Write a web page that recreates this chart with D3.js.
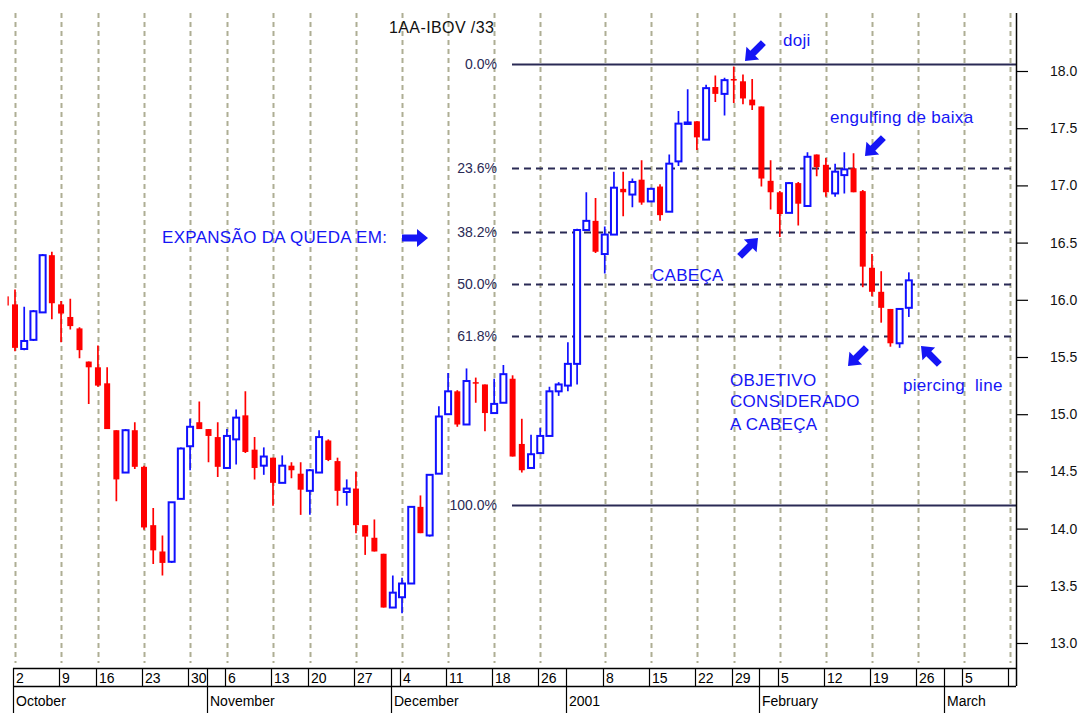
<!DOCTYPE html>
<html lang="en">
<head>
<meta charset="UTF-8"/>
<title>1AA-IBOV /33</title>
<script src="https://d3js.org/d3.v7.min.js"></script>
<style>
  body { margin: 0; background: #fff; }
  svg { display: block; font-family: "Liberation Sans", Arial, sans-serif; }
  text { white-space: pre; }
</style>
</head>
<body>
<script>
// trading-day candles, first one is Sep 29 (index -1), then Oct 2 = index 0
var firstIdx = -1;
var opens  = [16.03,15.96,15.57,15.65,15.89,16.39,15.96,15.85,15.75,15.46,15.41,15.27,14.86,14.49,14.86,14.54,14.03,13.80,13.71,14.26,
              14.72,14.93,14.87,14.80,14.53,14.78,14.99,14.69,14.55,14.62,14.40,14.55,14.48,14.33,14.49,14.77,14.59,14.32,14.35,14.03,
              13.92,13.78,13.31,13.40,13.52,14.19,13.94,14.48,15.00,15.20,14.91,15.28,15.26,15.01,15.10,15.31,14.74,14.53,14.66,14.81,
              15.20,15.25,15.44,16.61,16.69,16.40,16.57,16.97,16.92,17.05,16.86,16.99,16.77,17.21,17.54,17.56,17.40,17.86,17.80,17.93,
              17.91,17.75,17.69,17.04,16.94,16.76,17.02,16.82,17.27,17.18,16.93,17.09,17.15,16.95,16.28,16.07,15.92,15.62,15.93];
var highs  = [16.05,16.09,15.94,15.91,16.40,16.42,15.99,16.01,15.76,15.46,15.60,15.41,14.86,14.87,14.93,14.55,14.18,13.94,14.23,14.71,
              14.96,15.11,14.87,14.93,14.87,15.04,15.20,14.80,14.71,14.62,14.64,14.58,14.58,14.52,14.86,14.78,14.62,14.43,14.50,14.03,
              14.08,13.78,13.59,13.57,14.19,14.29,14.47,15.07,15.36,15.21,15.40,15.32,15.26,15.31,15.43,15.34,14.96,14.82,14.88,15.24,
              15.28,15.63,16.62,16.94,16.89,16.64,17.12,17.12,17.06,17.22,16.98,17.01,17.27,17.65,17.84,17.56,17.88,17.96,17.94,18.04,
              17.97,17.93,17.69,17.22,16.95,17.03,17.03,17.29,17.27,17.24,17.19,17.29,17.28,16.96,16.40,16.25,15.92,15.92,16.24];
var lows   = [15.93,15.55,15.56,15.64,15.89,15.83,15.63,15.74,15.49,15.09,15.24,14.87,14.24,14.49,14.52,13.99,13.69,13.59,13.70,14.26,
              14.51,14.87,14.58,14.45,14.52,14.56,14.66,14.43,14.47,14.20,14.40,14.44,14.12,14.12,14.49,14.59,14.20,14.20,13.96,13.77,
              13.80,13.31,13.31,13.26,13.52,13.96,13.93,14.48,15.00,14.89,14.91,15.10,14.85,15.01,15.10,14.63,14.49,14.53,14.66,14.81,
              15.16,15.20,15.26,16.61,16.41,16.23,16.57,16.73,16.81,16.83,16.86,16.69,16.77,17.17,17.54,17.31,17.40,17.73,17.61,17.72,
              17.71,17.66,16.99,16.79,16.55,16.76,16.65,16.82,17.08,16.90,16.90,16.93,16.94,16.11,16.03,15.80,15.59,15.58,15.85];
var closes = [15.95,15.58,15.64,15.90,16.39,15.97,15.88,15.77,15.56,15.41,15.25,14.87,14.43,14.86,14.54,14.01,13.81,13.70,14.23,14.70,
              14.89,14.87,14.81,14.54,14.81,14.97,14.67,14.53,14.63,14.40,14.55,14.51,14.34,14.51,14.80,14.60,14.33,14.35,14.03,13.93,
              13.80,13.31,13.44,13.52,14.19,13.96,14.47,14.98,15.20,14.91,15.29,15.27,15.01,15.09,15.35,14.63,14.51,14.65,14.81,15.20,
              15.26,15.44,16.61,16.69,16.42,16.57,16.98,16.94,17.03,16.85,16.97,16.74,17.19,17.54,17.55,17.42,17.85,17.80,17.92,17.92,
              17.76,17.70,17.06,16.94,16.75,17.02,16.84,17.25,17.16,16.94,17.12,17.14,16.94,16.29,16.07,15.93,15.62,15.92,16.17];

// week starts (trading-day index) and their labels
var weekIdx    = [0, 5, 9, 14, 19, 23, 28, 32, 37, 42, 47, 52, 57, 64, 69, 74, 78, 83, 88, 93, 98, 103, 108];
var weekLabels = ["2","9","16","23","30","6","13","20","27","4","11","18","26","8","15","22","29","5","12","19","26","5",""];
// month starts
var monthIdx    = [0, 21, 41, 60, 81, 101];
var monthLabels = ["October","November","December","2001","February","March"];

// retracement levels
var fibTop = 18.06;
var fibBottom = 14.21;
var fibLevels = [0, 0.236, 0.382, 0.5, 0.618, 1];
var fibLabels = ["0.0%","23.6%","38.2%","50.0%","61.8%","100.0%"];

var yTicks = [13.0, 13.5, 14.0, 14.5, 15.0, 15.5, 16.0, 16.5, 17.0, 17.5, 18.0];

var w = 1086, h = 713;
var plotTop = 13, plotBottom = 663, plotRight = 1016;

var x = d3.scaleLinear().domain([0, 108]).range([15, 1010.2]);
var y = d3.scaleLinear().domain([13, 18]).range([643, 71]);

var svg = d3.select("body").append("svg")
    .attr("width", w)
    .attr("height", h);

svg.append("rect").attr("width", w).attr("height", h).attr("fill", "#fff");

svg.append("clipPath").attr("id", "plotclip")
  .append("rect").attr("x", 7.5).attr("y", plotTop)
  .attr("width", plotRight - 7.5).attr("height", plotBottom - plotTop);

// vertical week grid
svg.append("g").selectAll("line")
    .data(weekIdx)
    .enter().append("line")
    .attr("x1", function(d) { return Math.round(x(d)) + 0.5; })
    .attr("x2", function(d) { return Math.round(x(d)) + 0.5; })
    .attr("y1", plotTop)
    .attr("y2", plotBottom)
    .attr("stroke", "#aeae94")
    .attr("stroke-width", 2)
    .attr("stroke-dasharray", "5,4");

// retracement lines
var fib = fibLevels.map(function(f, i) {
    return { v: fibTop - f * (fibTop - fibBottom), label: fibLabels[i], solid: (f == 0 || f == 1) };
});

svg.append("g").selectAll("line")
    .data(fib)
    .enter().append("line")
    .attr("x1", 512)
    .attr("x2", plotRight)
    .attr("y1", function(d) { return Math.round(y(d.v)) + 0.5; })
    .attr("y2", function(d) { return Math.round(y(d.v)) + 0.5; })
    .attr("stroke", "#2a2a55")
    .attr("stroke-width", function(d) { return d.solid ? 1.8 : 2; })
    .attr("stroke-dasharray", function(d) { return d.solid ? null : "7,5"; });

svg.append("g").selectAll("text")
    .data(fib)
    .enter().append("text")
    .attr("x", 497)
    .attr("y", function(d) { return y(d.v) + 5; })
    .attr("text-anchor", "end")
    .attr("font-size", 14)
    .attr("fill", "#2a2a55")
    .text(function(d) { return d.label; });

// candles
var candles = opens.map(function(o, i) {
    return { i: i + firstIdx, o: o, h: highs[i], l: lows[i], c: closes[i] };
});

var cg = svg.append("g").attr("clip-path", "url(#plotclip)");
var bodyW = 6;

cg.selectAll("line.wick")
    .data(candles)
    .enter().append("line")
    .attr("class", "wick")
    .attr("x1", function(d) { return x(d.i); })
    .attr("x2", function(d) { return x(d.i); })
    .attr("y1", function(d) { return y(d.h); })
    .attr("y2", function(d) { return y(d.l); })
    .attr("stroke", function(d) { return d.c > d.o ? "#1010ff" : "#ff0000"; })
    .attr("stroke-width", 1.7);

cg.selectAll("rect.body")
    .data(candles)
    .enter().append("rect")
    .attr("class", "body")
    .attr("x", function(d) { return x(d.i) - bodyW / 2; })
    .attr("width", bodyW)
    .attr("y", function(d) { return y(Math.max(d.o, d.c)); })
    .attr("height", function(d) { return Math.max(1.5, Math.abs(y(d.o) - y(d.c))); })
    .attr("fill", function(d) { return d.c > d.o ? "#fff" : "#ff0000"; })
    .attr("stroke", function(d) { return d.c > d.o ? "#1010ff" : "none"; })
    .attr("stroke-width", 2);

// right price axis
var yAxis = d3.axisRight(y).tickValues(yTicks).tickSize(12).tickPadding(22)
    .tickFormat(d3.format(".1f"));
var minor = d3.axisRight(y).ticks(60).tickSize(6).tickFormat("");

var ax = svg.append("g").attr("transform", "translate(" + plotRight + ",0)");
ax.call(minor);
ax.call(yAxis);
ax.selectAll(".domain").remove();
ax.selectAll("line").attr("stroke", "#000").attr("stroke-width", 1.2);
ax.selectAll("text").attr("font-size", 14).attr("fill", "#111")
    .attr("font-family", "Liberation Sans, Arial, sans-serif");
ax.append("line").attr("x1", 0.5).attr("x2", 0.5).attr("y1", plotTop).attr("y2", 686)
    .attr("stroke", "#000").attr("stroke-width", 1.5);

// bottom date axis
var xa = svg.append("g");
xa.append("line").attr("x1", 13).attr("x2", plotRight).attr("y1", 668.5).attr("y2", 668.5)
    .attr("stroke", "#000").attr("stroke-width", 1.5);
xa.append("line").attr("x1", 13).attr("x2", plotRight).attr("y1", 686.5).attr("y2", 686.5)
    .attr("stroke", "#000").attr("stroke-width", 1.5);

var rowSeps = weekIdx.concat(monthIdx.slice(1));
xa.selectAll("line.wsep")
    .data(rowSeps)
    .enter().append("line")
    .attr("class", "wsep")
    .attr("x1", function(d) { return Math.round(x(d)) - 1.5; })
    .attr("x2", function(d) { return Math.round(x(d)) - 1.5; })
    .attr("y1", 668)
    .attr("y2", 686)
    .attr("stroke", "#000")
    .attr("stroke-width", 1.2);

xa.selectAll("text.wk")
    .data(weekIdx)
    .enter().append("text")
    .attr("class", "wk")
    .attr("x", function(d) { return Math.round(x(d)) + 1; })
    .attr("y", 683)
    .attr("font-size", 14)
    .attr("fill", "#000")
    .text(function(d, i) { return weekLabels[i]; });

xa.selectAll("line.msep")
    .data(monthIdx)
    .enter().append("line")
    .attr("class", "msep")
    .attr("x1", function(d) { return Math.round(x(d)) - 1.5; })
    .attr("x2", function(d) { return Math.round(x(d)) - 1.5; })
    .attr("y1", 686)
    .attr("y2", 713)
    .attr("stroke", "#000")
    .attr("stroke-width", 1.2);

xa.selectAll("text.mo")
    .data(monthIdx)
    .enter().append("text")
    .attr("class", "mo")
    .attr("x", function(d) { return Math.round(x(d)) + 1; })
    .attr("y", 706)
    .attr("font-size", 14)
    .attr("fill", "#000")
    .text(function(d, i) { return monthLabels[i]; });

// title
svg.append("text").attr("x", 389).attr("y", 33).attr("font-size", 16)
    .attr("letter-spacing", 0.4).attr("fill", "#111")
    .text("1AA-IBOV /33");

// annotations
var blue = "#1515f5";
function note(tx, ty, s) {
    svg.append("text").attr("x", tx).attr("y", ty).attr("font-size", 17)
        .attr("letter-spacing", 0.3)
        .attr("fill", blue).text(s);
}
note(783, 46, "doji");
note(830, 123, "engulfing de baixa");
note(162, 243, "EXPANSÃO DA QUEDA EM:");
note(652, 281, "CABEÇA");
note(730, 386, "OBJETIVO");
note(730, 407, "CONSIDERADO");
note(730, 430, "A CABEÇA");
note(903, 391, "piercing  line");

// block arrows: tip position and direction angle (deg)
function arrow(tipX, tipY, angle) {
    svg.append("path")
        .attr("d", "M0,0 L-11,-9 L-11,-3.5 L-26,-3.5 L-26,3.5 L-11,3.5 L-11,9 Z")
        .attr("transform", "translate(" + tipX + "," + tipY + ") rotate(" + angle + ")")
        .attr("fill", blue);
}
arrow(745, 61, 135);
arrow(865, 156, 135);
arrow(428, 238, 0);
arrow(758, 238, -45);
arrow(848, 366, 135);
arrow(921, 346, -135);
</script>
</body>
</html>
